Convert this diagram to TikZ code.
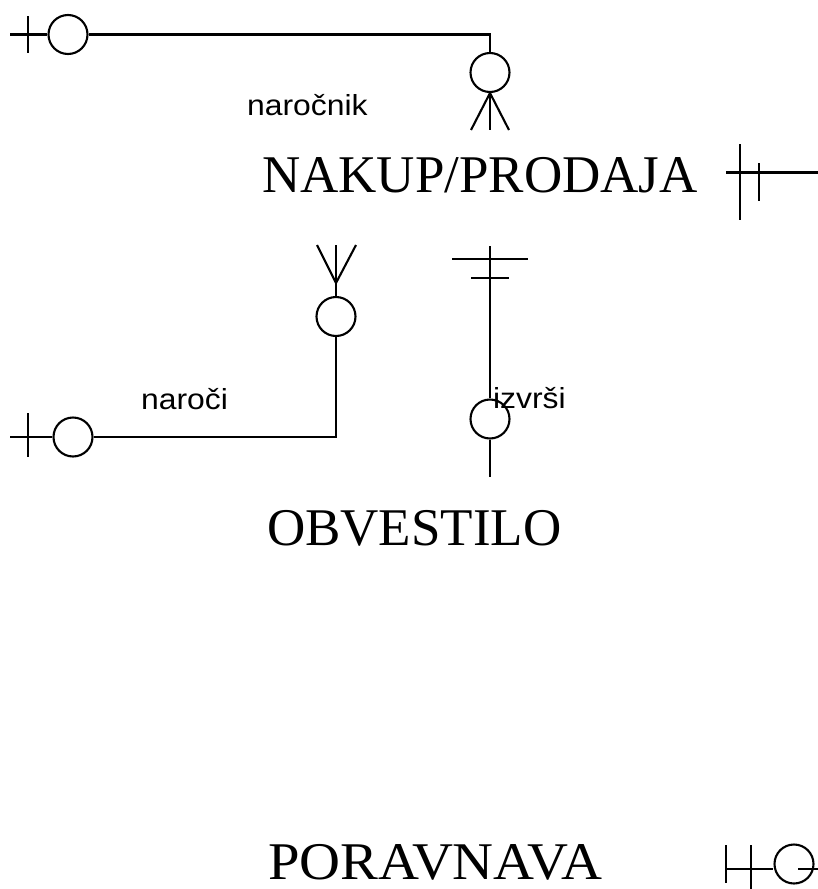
\documentclass[tikz,border=0pt]{standalone}
\usepackage{fontspec}
\setmainfont{Liberation Serif}
\newfontfamily\lsans{Liberation Sans}
\begin{document}
\begin{tikzpicture}[x=1pt,y=-1pt, line width=2.1pt,
  ring/.style={circle,draw,inner sep=0pt,minimum size=39pt,line width=2.1pt},
  ent/.style={font=\fontsize{53}{60}\selectfont, inner sep=0pt, anchor=base west, text depth=0pt},
  lab/.style={font=\lsans\fontsize{29}{34}\selectfont, inner sep=0pt, anchor=base west}]
\useasboundingbox (0,0) rectangle (818,889);

% top connector
\node[ring] (c1) at (68,34.5) {};
\coordinate (l1) at (10,34.5);
\coordinate (t1a) at (28,16);
\coordinate (t1b) at (28,53);
\draw (l1) -- (c1.west);
\draw (t1a) -- (t1b);
\node[ring] (c2) at (490,72.5) {};
\coordinate (k1) at (490,34.5);
\draw (c1.east) -- (k1) -- (c2.north);
\coordinate (f1) at (471,130);
\coordinate (f2) at (490,130);
\coordinate (f3) at (509,130);
\draw (f1) -- (c2.south) -- (f3);
\draw (c2.south) -- (f2);
\node[lab] (lnar) at (246,115) {\scalebox{1.1}[1]{naročnik}};

% entities
\node[ent] (e1) at (261,192) {NAKUP/PRODAJA};
\node[ent] (e2) at (266,545) {OBVESTILO};
\node[ent] (e3) at (267,879) {\scalebox{1.07}[1]{PORAVNAVA}};

% right of NAKUP/PRODAJA
\coordinate (r1a) at (740,144);
\coordinate (r1b) at (740,220);
\coordinate (r2a) at (759,163);
\coordinate (r2b) at (759,201);
\coordinate (rh1) at (726,172.5);
\coordinate (rh2) at (818,172.5);
\draw (r1a) -- (r1b);
\draw (r2a) -- (r2b);
\draw (rh1) -- (rh2);

% naroci connector
\coordinate (m1) at (317,245);
\coordinate (m2) at (336,245);
\coordinate (m3) at (356,245);
\coordinate (mj) at (336,283);
\draw (m1) -- (mj) -- (m3);
\draw (m2) -- (mj);
\node[ring] (c3) at (336,316.5) {};
\draw (mj) -- (c3.north);
\node[ring] (c4) at (73,437) {};
\coordinate (k2) at (336,437);
\draw (c3.south) -- (k2) -- (c4.east);
\coordinate (l2) at (10,437);
\draw (l2) -- (c4.west);
\coordinate (t2a) at (28,413);
\coordinate (t2b) at (28,457);
\draw (t2a) -- (t2b);
\node[lab] (lnaroci) at (140,409) {\scalebox{1.1}[1]{naroči}};

% izvrsi connector
\coordinate (v1) at (490,246);
\node[ring] (c5) at (490,419) {};
\draw (v1) -- (c5.north);
\coordinate (b1a) at (452,259);
\coordinate (b1b) at (528,259);
\coordinate (b2a) at (471,278);
\coordinate (b2b) at (509,278);
\draw (b1a) -- (b1b);
\draw (b2a) -- (b2b);
\coordinate (v2) at (490,477);
\draw (c5.south) -- (v2);
\node[lab] (lizv) at (492,408) {\scalebox{1.1}[1]{izvrši}};

% bottom right
\coordinate (p1a) at (726,845);
\coordinate (p1b) at (726,883);
\coordinate (p2a) at (751,845);
\coordinate (p2b) at (751,889);
\draw (p1a) -- (p1b);
\draw (p2a) -- (p2b);
\node[ring] (c6) at (794,864) {};
\coordinate (ph) at (726,869);
\draw (ph) -- (c6.west |- ph);
\coordinate (pq1) at (798,869);
\coordinate (pq2) at (818,869);
\draw (pq1) -- (pq2);
\end{tikzpicture}
\end{document}
